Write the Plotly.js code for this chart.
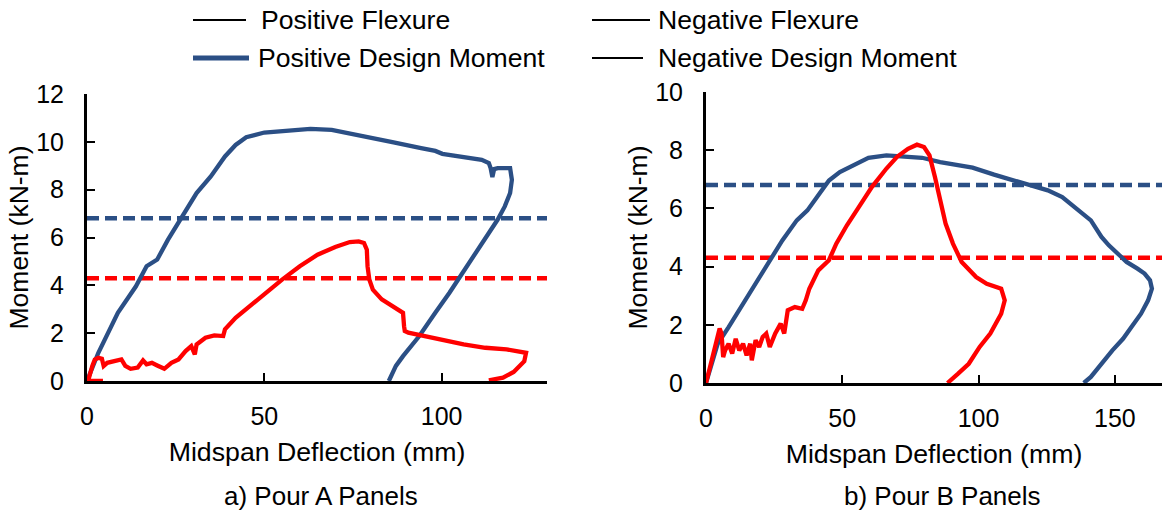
<!DOCTYPE html>
<html>
<head>
<meta charset="utf-8">
<script src="https://cdn.plot.ly/plotly-3.0.1.min.js"></script>
<style>html,body{margin:0;padding:0;background:#fff;}#chart{width:1162px;height:512px;}</style>
</head>
<body>
<div id="chart"></div>
<script>
// ---- Panel A (Pour A) ----
const posFlexA_x = [0,3.2,8.7,13.8,16.8,19.8,22.8,26.8,30.9,34.9,38.9,41.9,44.9,50,56,63,69,74,79.1,86.1,94.2,98.2,100.2,106.2,111.3,113.3,113.8,114.3,114.8,115.8,119.3,119.8,119.3,117.8,115.8,113.3,110.2,106.2,102.2,98.2,93.7,89.1,87.1,85.1];
const posFlexA_y = [0,1.18,2.85,3.96,4.8,5.08,5.9,6.88,7.86,8.55,9.39,9.87,10.19,10.39,10.47,10.54,10.5,10.36,10.19,9.99,9.74,9.62,9.5,9.36,9.25,9.11,8.9,8.53,8.86,8.9,8.9,8.41,7.86,7.3,6.75,6.19,5.49,4.52,3.69,2.85,1.88,1.04,0.63,0];
const negFlexA_x = [4.5,0.3,1.5,2.2,3.2,4.2,4.7,5.7,7.7,9.7,10.8,12.3,14.3,15.8,16.8,18.3,19.8,21.8,23.8,25.8,27.8,29.4,30.4,30.9,33.4,35.9,38.4,38.9,41.9,45.9,50,55,60,65,70,74.1,76.6,78.1,78.9,79.1,79.6,80.6,83.1,86.1,89.1,89.4,89.6,90.6,96.1,100.2,106.2,112.3,118.3,123.8,123.3,120.3,117.3,113.3];
const negFlexA_y = [0,0,0.63,0.9,0.97,0.93,0.63,0.76,0.83,0.9,0.63,0.51,0.56,0.86,0.7,0.76,0.65,0.51,0.76,0.9,1.25,1.46,1.11,1.53,1.81,1.91,1.88,2.16,2.64,3.13,3.64,4.24,4.8,5.28,5.6,5.81,5.84,5.77,5.49,4.8,4.24,3.82,3.41,3.13,2.85,2.29,2.09,2.02,1.85,1.74,1.53,1.39,1.32,1.18,0.83,0.38,0.14,0.03];

// ---- Panel B (Pour B) ----
const posFlexB_x = [0,4.3,8.3,12.2,17.5,22.8,28,33.3,37.2,41.2,45.1,49.1,54.3,59.6,66.2,74.1,79.3,85.9,97.8,105.7,112.2,120.1,125.4,130.7,134.6,138.6,141.2,145.1,147.8,151.7,154.3,158.3,160.9,162.9,163.6,162.2,159.6,155.7,153,149.1,145.1,141.2,138.6];
const posFlexB_y = [0,1.35,1.92,2.5,3.3,4.1,4.9,5.59,5.93,6.45,6.96,7.25,7.51,7.74,7.82,7.79,7.74,7.59,7.4,7.16,6.99,6.79,6.62,6.39,6.1,5.82,5.59,5.02,4.73,4.39,4.16,3.93,3.76,3.53,3.24,2.84,2.38,1.87,1.52,1.12,0.66,0.21,0];
const negFlexB_x = [0,1.7,3.7,5,5.7,6.3,7,8.3,9.6,10.9,12.2,13.6,14.9,16.2,16.8,18.2,19.5,20.8,22.1,23.4,25.4,27.4,28.7,30,32.6,35.3,36.6,37.9,41.2,45.1,47.8,51.7,55.7,60.9,66.2,70.1,74.1,77.4,80,82,84,86,87.9,90.6,93.8,99.1,103,108.3,109.6,108.3,104.3,100.4,96.4,92.5,88.6];
const negFlexB_y = [0,0.66,1.35,1.87,1.7,0.89,1.12,1.35,1.01,1.52,1.12,1.35,0.95,1.35,0.78,1.47,1.24,1.58,1.7,1.24,1.7,2.04,1.7,2.5,2.61,2.55,2.84,3.24,3.87,4.22,4.79,5.42,5.99,6.74,7.37,7.77,8.05,8.19,8.11,7.82,7.08,6.28,5.48,4.79,4.16,3.64,3.41,3.24,2.84,2.38,1.7,1.24,0.66,0.32,0];

// design moments (kN-m)
const posDesignMoment = 6.8;
const negDesignMoment = 4.3;

// axis settings
const xMaxA = 129.7, xMaxB = 167.3;
const yMaxA = 12, yMaxB = 10;
const xTicksA = [0,50,100], xTicksB = [0,50,100,150];

const legendLabels = ['Positive Flexure','Negative Flexure','Positive Design Moment','Negative Design Moment'];
const captions = ['a) Pour A Panels','b) Pour B Panels'];
const xTitle = 'Midspan Deflection (mm)';
const yTitle = 'Moment (kN-m)';

const BLUE = '#2B4F85', RED = '#FF0000';
const W = 1162, H = 512;

function line(x, y, color, xa, ya, dash, width){
  return {x:x, y:y, xaxis:xa, yaxis:ya, type:'scatter', mode:'lines',
    line:{color:color, width:width||4.3, dash:dash||'solid'}, hoverinfo:'skip', showlegend:false};
}

const data = [
  line([0,xMaxA],[posDesignMoment,posDesignMoment],BLUE,'x','y','12px,6px',4.5),
  line([0,xMaxA],[negDesignMoment,negDesignMoment],RED,'x','y','12px,6px',4.5),
  line(posFlexA_x,posFlexA_y,BLUE,'x','y'),
  line(negFlexA_x,negFlexA_y,RED,'x','y'),
  line([0,xMaxB],[posDesignMoment,posDesignMoment],BLUE,'x2','y2','12px,6px',4.5),
  line([0,xMaxB],[negDesignMoment,negDesignMoment],RED,'x2','y2','12px,6px',4.5),
  line(posFlexB_x,posFlexB_y,BLUE,'x2','y2'),
  line(negFlexB_x,negFlexB_y,RED,'x2','y2')
];

const axisCommon = {
  showline:true, linecolor:'#000', linewidth:3, showgrid:false, zeroline:false,
  ticks:'inside', ticklen:8, tickwidth:2, tickcolor:'#000',
  tickfont:{size:25, color:'#000'}, automargin:false, fixedrange:true
};

const px = v => v/W, py = v => 1 - v/H;

const layout = {
  width:W, height:H,
  margin:{l:0,r:0,t:0,b:0},
  paper_bgcolor:'#fff', plot_bgcolor:'#fff',
  font:{family:'"Liberation Sans", Arial, sans-serif', size:25, color:'#000'},
  showlegend:false,
  xaxis:Object.assign({}, axisCommon, {domain:[px(87),px(547)], range:[0,xMaxA], tickvals:xTicksA, anchor:'y',
    ticklabelstandoff:11, title:{text:xTitle, font:{size:26.7}, standoff:14}}),
  yaxis:Object.assign({}, axisCommon, {domain:[1-381/H, 1-94/H], range:[0,yMaxA], dtick:2, anchor:'x',
    ticklabelstandoff:15, title:{text:yTitle, font:{size:26.5}, standoff:0}}),
  xaxis2:Object.assign({}, axisCommon, {domain:[px(706),1], range:[0,xMaxB], tickvals:xTicksB, anchor:'y2',
    ticklabelstandoff:11, title:{text:xTitle, font:{size:26.7}, standoff:14}}),
  yaxis2:Object.assign({}, axisCommon, {domain:[1-383/H, 1-92/H], range:[0,yMaxB], dtick:2, anchor:'x2',
    ticklabelstandoff:15, title:{text:yTitle, font:{size:26.5}, standoff:0}}),
  shapes:[
    {type:'line', xref:'paper', yref:'paper', x0:px(193), x1:px(246), y0:py(20), y1:py(20), line:{color:'#000', width:2}},
    {type:'line', xref:'paper', yref:'paper', x0:px(592), x1:px(650), y0:py(20), y1:py(20), line:{color:'#000', width:2}},
    {type:'line', xref:'paper', yref:'paper', x0:px(193), x1:px(249), y0:py(58), y1:py(58), line:{color:BLUE, width:5}},
    {type:'line', xref:'paper', yref:'paper', x0:px(592), x1:px(643), y0:py(58), y1:py(58), line:{color:'#000', width:2}}
  ],
  annotations:[
    {text:legendLabels[0], xref:'paper', yref:'paper', x:px(259), y:py(20), xanchor:'left', yanchor:'middle', showarrow:false, font:{size:26.6}},
    {text:legendLabels[1], xref:'paper', yref:'paper', x:px(656), y:py(20), xanchor:'left', yanchor:'middle', showarrow:false, font:{size:26.6}},
    {text:legendLabels[2], xref:'paper', yref:'paper', x:px(256), y:py(58), xanchor:'left', yanchor:'middle', showarrow:false, font:{size:26.6}},
    {text:legendLabels[3], xref:'paper', yref:'paper', x:px(656), y:py(58), xanchor:'left', yanchor:'middle', showarrow:false, font:{size:26.6}},
    {text:captions[0], xref:'paper', yref:'paper', x:px(321), y:py(496), xanchor:'center', yanchor:'middle', showarrow:false, font:{size:26}},
    {text:captions[1], xref:'paper', yref:'paper', x:px(942), y:py(496), xanchor:'center', yanchor:'middle', showarrow:false, font:{size:26}}
  ]
};

Plotly.newPlot('chart', data, layout, {displayModeBar:false, staticPlot:true});
</script>
</body>
</html>
